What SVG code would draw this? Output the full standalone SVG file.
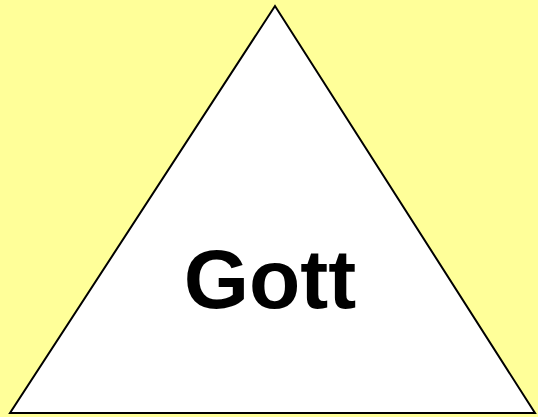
<svg xmlns="http://www.w3.org/2000/svg" width="538" height="417" viewBox="0 0 538 417">
<style>
.tri{fill:#FFFFFF;stroke:#000000;stroke-width:2;stroke-linejoin:miter}
.lbl{font-family:"Liberation Sans",Arial,sans-serif;font-weight:bold;font-size:84px;fill:#000000}
</style>
<rect x="0" y="0" width="538" height="417" fill="#FFFF99"/>
<g id="gott">
<polygon class="tri" points="275,6 10,413 535,413"/>
<text class="lbl" x="270" y="308" text-anchor="middle">Gott</text>
</g>
<g id="connectors"/>
</svg>
